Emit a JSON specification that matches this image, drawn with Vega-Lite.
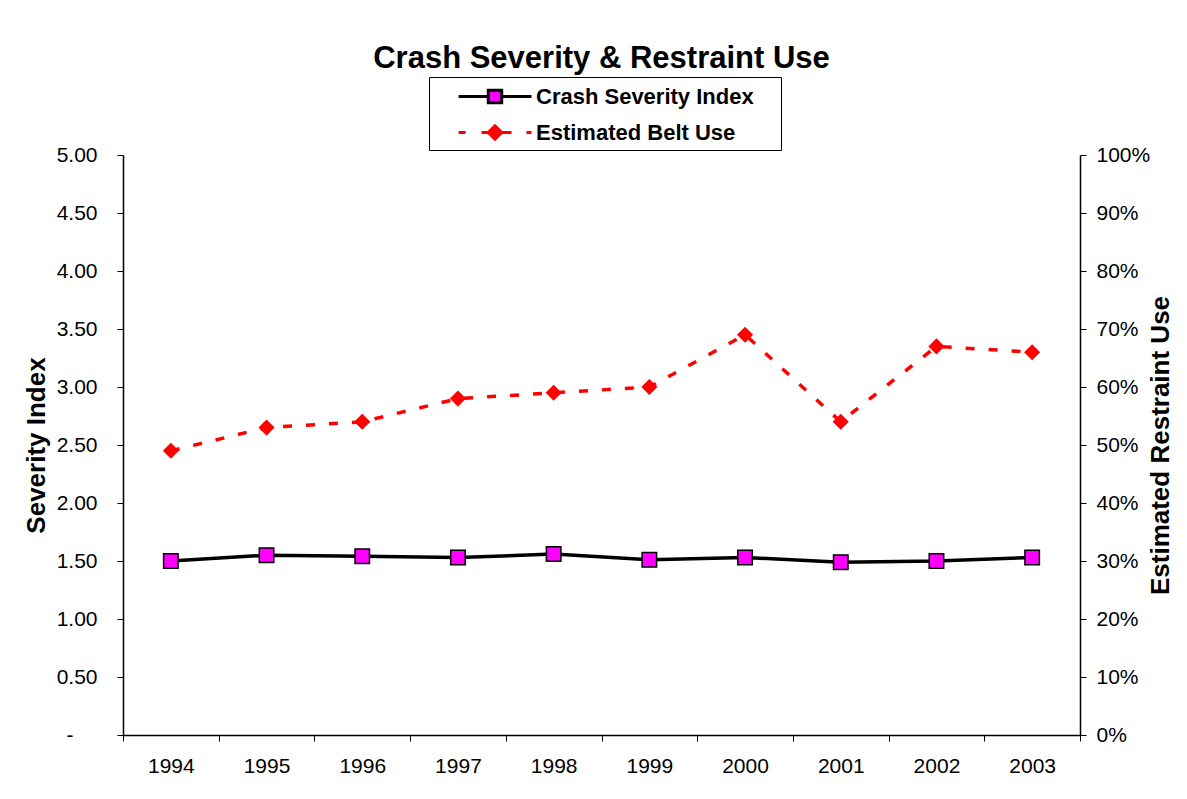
{
  "$schema": "https://vega.github.io/schema/vega-lite/v6.json",
  "width": 957,
  "height": 580,
  "autosize": {"type": "none"},
  "padding": {"left": 123, "top": 155, "right": 107, "bottom": 64},
  "background": "white",
  "title": {
    "text": "Crash Severity & Restraint Use",
    "font": "Liberation Sans",
    "fontSize": 31,
    "fontWeight": "bold",
    "color": "black",
    "anchor": "middle",
    "offset": 2
  },
  "config": {
    "view": {"stroke": null},
    "font": "Liberation Sans",
    "axis": {
      "domainColor": "black",
      "domainWidth": 1.5,
      "tickColor": "black",
      "tickWidth": 1,
      "tickSize": 6,
      "labelColor": "black",
      "labelFont": "Liberation Sans",
      "labelFontSize": 21,
      "titleFont": "Liberation Sans",
      "titleFontSize": 26,
      "titleFontWeight": "bold",
      "titleColor": "black",
      "grid": false
    }
  },
  "data": {
    "values": [
      {"year": "1994", "series": "Crash Severity Index", "value": 1.50},
      {"year": "1995", "series": "Crash Severity Index", "value": 1.55},
      {"year": "1996", "series": "Crash Severity Index", "value": 1.54},
      {"year": "1997", "series": "Crash Severity Index", "value": 1.53},
      {"year": "1998", "series": "Crash Severity Index", "value": 1.56},
      {"year": "1999", "series": "Crash Severity Index", "value": 1.51},
      {"year": "2000", "series": "Crash Severity Index", "value": 1.53},
      {"year": "2001", "series": "Crash Severity Index", "value": 1.49},
      {"year": "2002", "series": "Crash Severity Index", "value": 1.50},
      {"year": "2003", "series": "Crash Severity Index", "value": 1.53},
      {"year": "1994", "series": "Estimated Belt Use", "value": 0.49},
      {"year": "1995", "series": "Estimated Belt Use", "value": 0.53},
      {"year": "1996", "series": "Estimated Belt Use", "value": 0.54},
      {"year": "1997", "series": "Estimated Belt Use", "value": 0.58},
      {"year": "1998", "series": "Estimated Belt Use", "value": 0.59},
      {"year": "1999", "series": "Estimated Belt Use", "value": 0.60},
      {"year": "2000", "series": "Estimated Belt Use", "value": 0.69},
      {"year": "2001", "series": "Estimated Belt Use", "value": 0.54},
      {"year": "2002", "series": "Estimated Belt Use", "value": 0.67},
      {"year": "2003", "series": "Estimated Belt Use", "value": 0.66}
    ]
  },
  "encoding": {
    "x": {
      "field": "year",
      "type": "ordinal",
      "bandPosition": 0.5,
      "scale": {"type": "band", "paddingInner": 0, "paddingOuter": 0},
      "axis": {
        "title": null,
        "labelAngle": 0,
        "tickBand": "extent",
        "labelPadding": 14
      }
    }
  },
  "layer": [
    {
      "transform": [{"filter": "datum.series === 'Crash Severity Index'"}],
      "encoding": {
        "y": {
          "field": "value",
          "type": "quantitative",
          "scale": {"domain": [0, 5], "nice": false, "zero": true},
          "axis": {
            "orient": "left",
            "title": "Severity Index",
            "values": [0, 0.5, 1, 1.5, 2, 2.5, 3, 3.5, 4, 4.5, 5],
            "labelExpr": "datum.value === 0 ? '-' : format(datum.value, '.2f')",
            "labelPadding": {"condition": {"test": "datum.value === 0", "value": 44}, "value": 20},
            "titlePadding": 7
          }
        }
      },
      "layer": [
        {
          "mark": {"type": "line", "strokeWidth": 3.5},
          "encoding": {
            "color": {
              "field": "series",
              "type": "nominal",
              "scale": {"domain": ["Crash Severity Index", "Estimated Belt Use"], "range": ["black", "red"]},
              "legend": {
                "title": null,
                "orient": "none",
                "legendX": 306,
                "legendY": -78,
                "direction": "vertical",
                "padding": 4,
                "rowPadding": 8,
                "strokeColor": "black",
                "fillColor": "white",
                "symbolSize": 784,
                "symbolStrokeWidth": 3,
                "labelOffset": 72,
                "labelFont": "Liberation Sans",
                "labelFontSize": 22,
                "labelFontWeight": "bold",
                "labelColor": "black",
                "labelLimit": 400,
                "encode": {
                  "symbols": {
                    "update": {
                      "shape": {"signal": "datum.value === 'Crash Severity Index' ? 'M0.72,0H2.84M3.8,0H5.93M2.84,-0.45H3.8V0.45H2.84ZM23,0' : 'M0.72,0H1.22M2.36,0H2.86M3.78,0H4.5M5.57,0H5.93M3.32,-0.48L3.8,0L3.32,0.48L2.84,0ZM23,0'"},
                      "fill": {"signal": "datum.value === 'Crash Severity Index' ? '#ff00ff' : 'red'"},
                      "stroke": {"signal": "datum.value === 'Crash Severity Index' ? 'black' : 'red'"},
                      "strokeDash": {"value": []},
                      "opacity": {"value": 1}
                    }
                  }
                }
              }
            }
          }
        },
        {
          "mark": {"type": "point", "shape": "square", "filled": true, "fill": "#ff00ff", "stroke": "black", "strokeWidth": 1.5, "size": 210, "opacity": 1}
        }
      ]
    },
    {
      "transform": [{"filter": "datum.series === 'Estimated Belt Use'"}],
      "encoding": {
        "y": {
          "field": "value",
          "type": "quantitative",
          "scale": {"domain": [0, 1], "nice": false, "zero": true},
          "axis": {
            "orient": "right",
            "title": "Estimated Restraint Use",
            "titleAngle": -90,
            "values": [0, 0.1, 0.2, 0.3, 0.4, 0.5, 0.6, 0.7, 0.8, 0.9, 1],
            "format": ".0%",
            "labelPadding": 10,
            "titlePadding": 24
          }
        }
      },
      "layer": [
        {
          "mark": {"type": "line", "strokeWidth": 3.5, "strokeDash": [9, 14]},
          "encoding": {
            "color": {"field": "series", "type": "nominal"}
          }
        },
        {
          "mark": {"type": "point", "shape": "diamond", "filled": true, "color": "red", "size": 260, "opacity": 1}
        }
      ]
    }
  ],
  "resolve": {"scale": {"y": "independent"}}
}
